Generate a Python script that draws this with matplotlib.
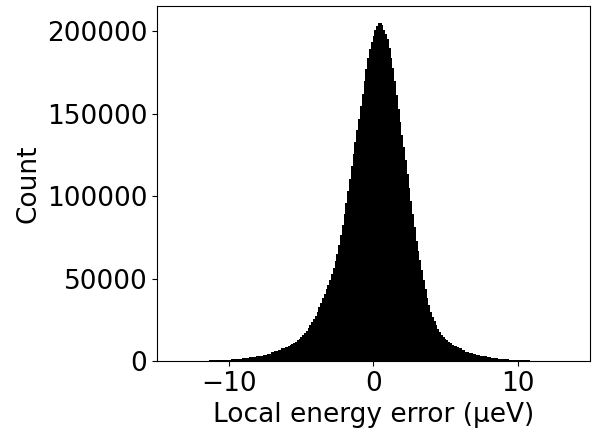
import numpy as np
import matplotlib
matplotlib.use("Agg")
import matplotlib.pyplot as plt

# Counts (thousands).
# Tails at 0.25 µeV spacing, core at 0.125 µeV spacing.
left_tail_x = np.arange(-14.0, -6.25 + 1e-9, 0.25)
left_tail_k = [
    0.05, 0.08, 0.10, 0.10, 0.12, 0.14, 0.16, 0.18, 0.20, 0.23,
    0.27, 0.31, 0.36, 0.42, 0.55, 0.70, 0.90, 1.05, 1.20, 1.40,
    1.60, 1.90, 2.20, 2.55, 2.90, 3.30, 3.80, 4.40, 5.20, 6.00,
    6.80, 7.60,
]
core_x = np.arange(-6.0, 6.0 + 1e-9, 0.125)
core_k = [
    8.40, 8.90, 9.50, 10.10, 10.80, 11.60, 12.50, 13.40, 14.50, 15.70,
    17.00, 18.40, 20.00, 21.70, 23.50, 25.40, 27.50, 29.90, 32.50, 35.20,
    38.00, 40.80, 43.50, 46.20, 49.00, 52.60, 56.50, 60.50, 65.00, 70.50,
    76.50, 82.50, 89.00, 96.00, 103.00, 110.50, 118.00, 125.50, 133.00, 140.00,
    147.00, 154.50, 162.00, 169.50, 177.00, 183.50, 189.00, 193.50, 197.00, 200.50,
    203.00, 205.00, 205.00, 203.50, 201.00, 198.00, 195.00, 190.00, 184.00, 177.50,
    170.00, 161.50, 153.00, 145.00, 137.00, 129.50, 122.00, 113.50, 105.00, 97.00,
    89.00, 81.00, 73.00, 67.00, 61.00, 55.00, 49.00, 43.50, 38.50, 34.00,
    30.00, 26.80, 24.00, 21.60, 19.50, 17.70, 16.00, 14.70, 13.50, 12.50,
    11.60, 10.80, 10.00, 9.40, 8.80, 8.20, 7.60,
]
right_tail_x = np.arange(6.25, 14.0 + 1e-9, 0.25)
right_tail_k = [
    6.60, 5.70, 5.00, 4.30, 3.70, 3.20, 2.80, 2.40, 2.00, 1.70,
    1.45, 1.20, 1.05, 0.90, 0.75, 0.60, 0.50, 0.42, 0.36, 0.30,
    0.26, 0.22, 0.19, 0.16, 0.14, 0.12, 0.11, 0.10, 0.09, 0.08,
    0.06, 0.05,
]

x_ticks = [-10, 0, 10]
x_label = "Local energy error (µeV)"
y_label = "Count"

centers = np.concatenate([left_tail_x, core_x, right_tail_x])
counts = np.array(left_tail_k + core_k + right_tail_k) * 1000.0
mids = (centers[:-1] + centers[1:]) / 2
edges = np.concatenate([[centers[0] - 0.125], mids, [centers[-1] + 0.125]])

fig = plt.figure(figsize=(5.97, 4.29), dpi=100)
ax = fig.add_axes([0.263, 0.1585, 0.725, 0.8275])
ax.hist(centers, bins=edges, weights=counts, color="black",
        histtype="stepfilled", linewidth=0)
ax.set_xlim(-15, 15)
ax.set_xticks(x_ticks)
ax.set_xlabel(x_label, fontsize=19)
ax.set_ylabel(y_label, fontsize=19)
ax.tick_params(labelsize=19)
fig.savefig("out.png", dpi=100)
